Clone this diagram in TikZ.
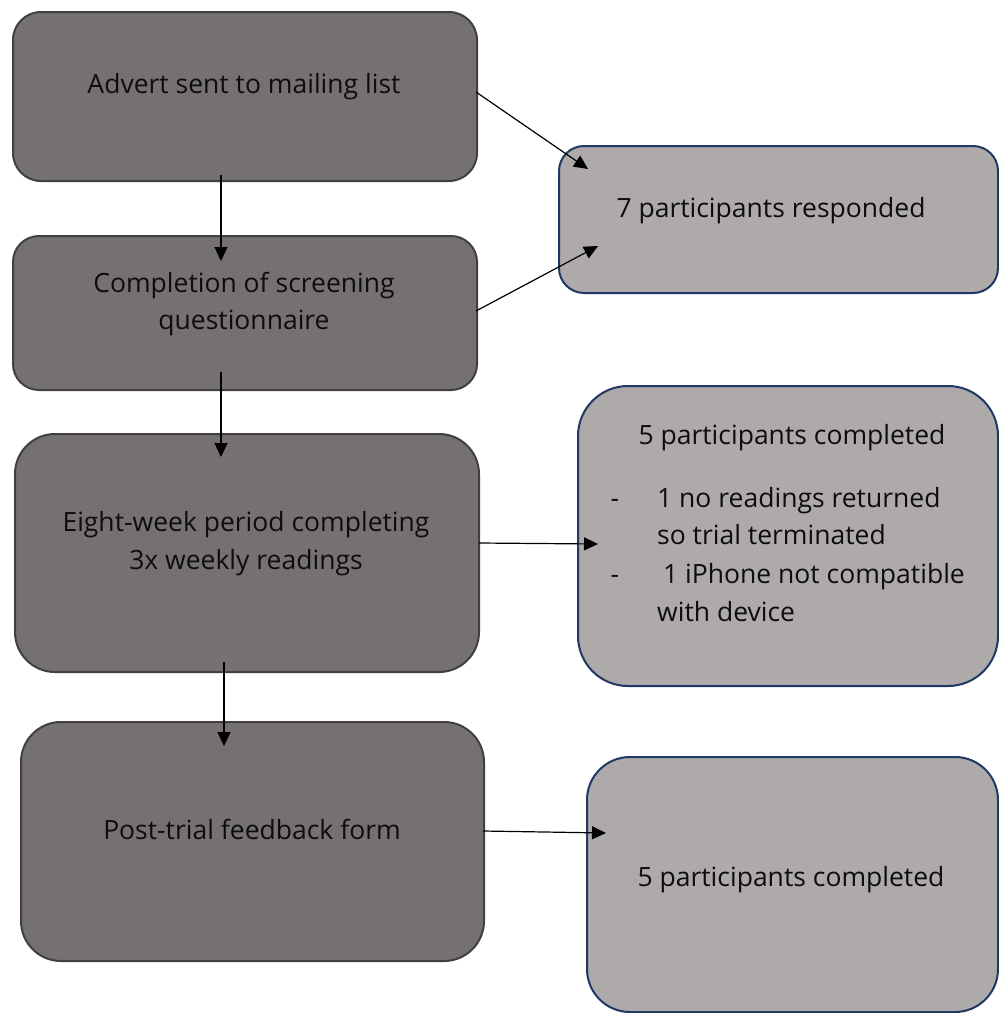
\documentclass[tikz,border=0pt]{standalone}
\usepackage{fontspec}
\setmainfont{Open Sans}
\usetikzlibrary{arrows.meta}
\definecolor{darkfill}{HTML}{767171}
\definecolor{darkline}{HTML}{404040}
\definecolor{lightfill}{HTML}{AEAAAA}
\definecolor{navyline}{HTML}{1F3864}
\definecolor{txtcol}{HTML}{0D0D0D}
\begin{document}
\begin{tikzpicture}[x=1pt,y=-1pt,
 darkbox/.style={draw=darkline, fill=darkfill, line width=2pt, anchor=north west, inner sep=0pt},
 lightbox/.style={draw=navyline, fill=lightfill, line width=2pt, anchor=north west, inner sep=0pt},
 txt/.style={font=\fontsize{26.5}{31}\selectfont, text=txtcol, inner sep=0pt},
 conn/.style={line width=1.2pt, -{Triangle[length=14pt,width=13pt]}}]
\useasboundingbox (0,0) rectangle (999,1013);
% left column
\node[darkbox, rounded corners=28pt, minimum width=464pt, minimum height=169pt] (b1) at (12,11) {};
\node[darkbox, rounded corners=26pt, minimum width=464pt, minimum height=154pt] (b2) at (12,235) {};
\node[darkbox, rounded corners=40pt, minimum width=464pt, minimum height=238pt] (b3) at (14,433) {};
\node[darkbox, rounded corners=40pt, minimum width=463pt, minimum height=239pt] (b4) at (20,721) {};
% right column
\node[lightbox, rounded corners=25pt, minimum width=439pt, minimum height=147pt] (ra) at (558,145) {};
\node[lightbox, rounded corners=50pt, minimum width=420pt, minimum height=300pt] (rb) at (577,385) {};
\node[lightbox, rounded corners=43pt, minimum width=411pt, minimum height=255pt] (rc) at (586,756) {};
% texts
\node[txt, anchor=mid] (t1) at (244,91) {Advert sent to mailing list};
\node[txt, anchor=mid] (t2a) at (244,290) {Completion of screening};
\node[txt, anchor=mid] (t2b) at (244,327) {questionnaire};
\node[txt, anchor=mid] (t3a) at (246,529) {Eight-week period completing};
\node[txt, anchor=mid] (t3b) at (246,567) {3x weekly readings};
\node[txt, anchor=mid] (t4) at (252,837) {Post-trial feedback form};
\node[txt, anchor=mid] (ta) at (771,215) {7 participants responded};
\node[txt, anchor=mid] (tb0) at (792,442) {5 participants completed};
\node[txt, anchor=mid] (tbd1) at (615,505) {-};
\node[txt, anchor=mid west] (tb1) at (657,505) {1 no readings returned};
\node[txt, anchor=mid west] (tb2) at (657,542) {so trial terminated};
\node[txt, anchor=mid] (tbd2) at (615,581) {-};
\node[txt, anchor=mid west] (tb3) at (663,581) {1 iPhone not compatible};
\node[txt, anchor=mid west] (tb4) at (657,619) {with device};
\node[txt, anchor=mid] (tc) at (791,884) {5 participants completed};
% connector end points
\coordinate (a1s) at (221,175); \coordinate (a1e) at (221,261);
\coordinate (a2s) at (221,372); \coordinate (a2e) at (221,457);
\coordinate (a3s) at (224,662); \coordinate (a3e) at (224,746);
\coordinate (a4s) at (476,92);  \coordinate (a4e) at (588,169);
\coordinate (a5s) at (476,311); \coordinate (a5e) at (598,246);
\coordinate (a6s) at (479,543); \coordinate (a6e) at (598,544);
\coordinate (a7s) at (483,831); \coordinate (a7e) at (606,833);
\draw[conn] (a1s) -- (a1e);
\draw[conn] (a2s) -- (a2e);
\draw[conn] (a3s) -- (a3e);
\draw[conn] (a4s) -- (a4e);
\draw[conn] (a5s) -- (a5e);
\draw[conn] (a6s) -- (a6e);
\draw[conn] (a7s) -- (a7e);
\end{tikzpicture}
\end{document}
